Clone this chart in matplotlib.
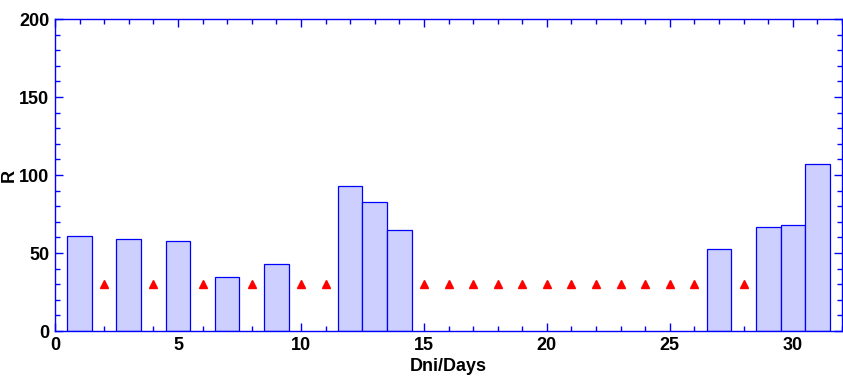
import matplotlib
matplotlib.use("Agg")
import matplotlib.pyplot as plt
from matplotlib.ticker import MultipleLocator

bar_days = [1, 3, 5, 7, 9, 12, 13, 14, 27, 29, 30, 31]
bar_values = [61, 59, 57.5, 34.5, 43, 93, 82.5, 64.5, 52.5, 66.5, 68, 107]
tri_days = [2, 4, 6, 8, 10, 11, 15, 16, 17, 18, 19, 20, 21, 22, 23, 24, 25, 26, 28]
tri_values = [30] * len(tri_days)

plt.rcParams['font.family'] = ['Liberation Sans', 'DejaVu Sans']
plt.rcParams['font.weight'] = 'bold'

fig = plt.figure(figsize=(8.43, 3.76), dpi=100)
ax = fig.add_axes([55/843, 45/376, 787/843, 312/376])

ax.bar(bar_days, bar_values, width=1.0, color='#CDD0FF', edgecolor='#0000FF', linewidth=0.9, zorder=2)
ax.plot(tri_days, tri_values, linestyle='none', marker='^', color='#FF0000', markersize=5.5, zorder=3)

ax.set_xlim(0, 32)
ax.set_ylim(0, 200)
ax.xaxis.set_major_locator(MultipleLocator(5))
ax.xaxis.set_minor_locator(MultipleLocator(1))
ax.yaxis.set_major_locator(MultipleLocator(50))
ax.yaxis.set_minor_locator(MultipleLocator(10))

for s in ax.spines.values():
    s.set_color('#0000FF')
    s.set_linewidth(1.0)
ax.tick_params(which='both', direction='in', top=True, right=True, color='#0000FF', width=1.0, labelsize=13, pad=4)
ax.tick_params(which='major', length=6)
ax.tick_params(which='minor', length=3.5)
for lab in ax.get_xticklabels() + ax.get_yticklabels():
    lab.set_fontweight('bold')

ax.set_xlabel('Dni/Days', fontsize=13, fontweight='bold', labelpad=3)
ax.set_ylabel('R', fontsize=13, fontweight='bold')
ax.yaxis.set_label_coords(-0.047, 0.5)

fig.savefig('out.png', dpi=100)
